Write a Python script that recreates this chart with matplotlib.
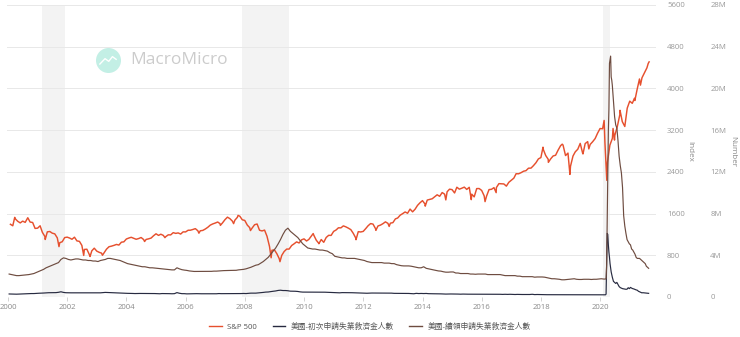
import pandas as pd
import matplotlib
matplotlib.use('Agg')
import matplotlib.pyplot as plt
from matplotlib.lines import Line2D

plt.rcParams['font.family'] = ['Open Sans', 'Noto Sans CJK TC', 'DejaVu Sans']

# S&P 500 month-end closes, Jan 2000 .. Jul 2021
sp500_monthly = [
    1394, 1366, 1499, 1452, 1421, 1455, 1431, 1518, 1437, 1429, 1315, 1320,
    1366, 1240, 1160, 1249, 1256, 1224, 1211, 1134, 1041, 1060, 1139, 1148,
    1130, 1107, 1147, 1076, 1067, 990, 912, 916, 815, 886, 936, 880,
    856, 841, 848, 917, 964, 975, 990, 1008, 996, 1051, 1058, 1112,
    1131, 1145, 1126, 1107, 1121, 1141, 1102, 1104, 1115, 1130, 1174, 1212,
    1181, 1204, 1181, 1157, 1192, 1191, 1234, 1220, 1229, 1207, 1249, 1248,
    1280, 1281, 1295, 1311, 1270, 1270, 1277, 1304, 1336, 1378, 1401, 1418,
    1438, 1407, 1421, 1482, 1531, 1503, 1455, 1474, 1527, 1549, 1481, 1468,
    1379, 1331, 1323, 1386, 1400, 1280, 1267, 1283, 1165, 969, 896, 903,
    826, 735, 798, 873, 919, 919, 987, 1021, 1057, 1036, 1096, 1115,
    1074, 1104, 1169, 1187, 1089, 1031, 1102, 1049, 1141, 1183, 1181, 1258,
    1286, 1327, 1326, 1364, 1345, 1321, 1292, 1219, 1131, 1253, 1247, 1258,
    1312, 1366, 1408, 1398, 1310, 1362, 1379, 1407, 1441, 1412, 1416, 1426,
    1498, 1515, 1569, 1598, 1631, 1606, 1686, 1633, 1682, 1757, 1806, 1848,
    1783, 1859, 1872, 1884, 1924, 1960, 1931, 2003, 1972, 2018, 2068, 2059,
    1995, 2105, 2068, 2086, 2107, 2063, 2104, 1972, 1920, 2079, 2080, 2044,
    1940, 1932, 2060, 2065, 2097, 2099, 2174, 2171, 2168, 2126, 2199, 2239,
    2279, 2364, 2363, 2384, 2412, 2423, 2470, 2472, 2519, 2575, 2648, 2674,
    2824, 2714, 2641, 2648, 2705, 2718, 2816, 2902, 2914, 2712, 2760, 2507,
    2704, 2784, 2834, 2946, 2752, 2942, 2980, 2926, 2977, 3038, 3141, 3231,
    3226, 2954, 2585, 2912, 3044, 3100, 3271, 3500, 3363, 3270, 3622, 3756,
    3714, 3811, 3973, 4181, 4204, 4298, 4395,
]
# intra-month highs / lows
sp500_extra_dates = ['2000-03-24', '2000-09-01', '2001-04-04', '2001-09-21', '2002-07-23',
                     '2002-10-09', '2003-03-11', '2004-08-12', '2005-04-20', '2006-06-13',
                     '2007-03-05', '2007-08-15', '2007-10-09', '2008-03-10', '2008-11-20',
                     '2009-03-09', '2010-04-23', '2010-07-02', '2011-04-29', '2011-10-03',
                     '2012-06-04', '2012-11-15', '2014-02-03', '2014-10-15', '2015-08-25',
                     '2016-02-11', '2016-06-27', '2018-01-26', '2018-04-02', '2018-09-20',
                     '2018-12-24', '2019-06-03', '2019-08-14', '2020-02-19', '2020-03-23',
                     '2020-06-08', '2020-06-26', '2020-09-02', '2020-10-30', '2021-01-29',
                     '2021-03-04', '2021-05-12', '2021-08-16', '2021-08-27']
sp500_extra_values = [1527, 1520, 1103, 966, 797,
                      777, 800, 1064, 1138, 1224,
                      1374, 1407, 1565, 1274, 752,
                      677, 1217, 1022, 1364, 1099,
                      1278, 1353, 1742, 1862, 1867,
                      1829, 2001, 2873, 2582, 2931,
                      2351, 2744, 2840, 3386, 2237,
                      3232, 3009, 3580, 3270, 3714,
                      3768, 4063, 4479, 4509]

# continuing claims (millions), monthly Jan 2000 .. Feb 2020
continuing_monthly = [
    2.20, 2.15, 2.10, 2.05, 2.05, 2.08, 2.10, 2.12, 2.15, 2.20, 2.25, 2.35,
    2.45, 2.55, 2.65, 2.80, 2.90, 3.00, 3.10, 3.20, 3.30, 3.60, 3.75, 3.70,
    3.60, 3.55, 3.60, 3.65, 3.65, 3.60, 3.55, 3.55, 3.50, 3.50, 3.45, 3.45,
    3.40, 3.50, 3.55, 3.60, 3.70, 3.70, 3.65, 3.60, 3.55, 3.50, 3.40, 3.30,
    3.20, 3.15, 3.10, 3.05, 3.00, 2.95, 2.90, 2.90, 2.85, 2.80, 2.80, 2.78,
    2.75, 2.72, 2.70, 2.68, 2.65, 2.62, 2.60, 2.60, 2.80, 2.70, 2.62, 2.58,
    2.55, 2.50, 2.48, 2.45, 2.45, 2.45, 2.45, 2.44, 2.45, 2.45, 2.46, 2.48,
    2.48, 2.50, 2.52, 2.53, 2.54, 2.55, 2.55, 2.55, 2.56, 2.60, 2.62, 2.65,
    2.70, 2.78, 2.85, 2.95, 3.05, 3.10, 3.25, 3.40, 3.60, 3.80, 4.10, 4.40,
    4.70, 5.10, 5.50, 6.00, 6.40, 6.60, 6.30, 6.10, 5.90, 5.70, 5.40, 5.10,
    4.90, 4.70, 4.65, 4.60, 4.60, 4.55, 4.50, 4.50, 4.45, 4.40, 4.25, 4.15,
    3.90, 3.85, 3.80, 3.75, 3.75, 3.70, 3.70, 3.70, 3.70, 3.65, 3.60, 3.55,
    3.50, 3.40, 3.35, 3.30, 3.30, 3.30, 3.30, 3.30, 3.25, 3.25, 3.25, 3.20,
    3.20, 3.10, 3.05, 3.00, 2.98, 2.98, 2.98, 2.95, 2.90, 2.85, 2.80, 2.80,
    2.90, 2.75, 2.70, 2.65, 2.60, 2.55, 2.50, 2.48, 2.42, 2.38, 2.38, 2.40,
    2.40, 2.30, 2.30, 2.25, 2.25, 2.25, 2.25, 2.20, 2.20, 2.18, 2.20, 2.20,
    2.20, 2.20, 2.15, 2.15, 2.15, 2.15, 2.15, 2.15, 2.10, 2.05, 2.05, 2.05,
    2.05, 2.05, 2.00, 2.00, 1.95, 1.95, 1.95, 1.95, 1.95, 1.90, 1.92, 1.92,
    1.92, 1.90, 1.85, 1.80, 1.75, 1.75, 1.73, 1.70, 1.65, 1.65, 1.68, 1.70,
    1.72, 1.75, 1.70, 1.68, 1.68, 1.70, 1.70, 1.70, 1.68, 1.70, 1.70, 1.72,
    1.75, 1.72,
]
# continuing claims (millions), Mar 2020 onward
continuing_recent_dates = [
    '2020-03-07', '2020-03-14', '2020-03-21', '2020-03-28', '2020-04-04', '2020-04-11',
    '2020-04-18', '2020-04-25', '2020-05-09', '2020-05-16', '2020-05-23', '2020-05-30',
    '2020-06-13', '2020-06-27', '2020-07-11', '2020-07-25', '2020-08-08', '2020-08-22',
    '2020-09-05', '2020-09-19', '2020-10-03', '2020-10-17', '2020-10-31', '2020-11-14',
    '2020-11-28', '2020-12-12', '2020-12-26', '2021-01-09', '2021-01-23', '2021-02-06',
    '2021-02-20', '2021-03-06', '2021-03-20', '2021-04-03', '2021-04-17', '2021-05-01',
    '2021-05-15', '2021-05-29', '2021-06-12', '2021-06-26', '2021-07-10', '2021-07-24',
    '2021-08-07', '2021-08-21']
continuing_recent_values = [
    1.72, 1.78, 3.06, 7.40, 11.9, 15.9,
    18.0, 22.4, 23.1, 21.1, 20.8, 20.3,
    18.8, 17.3, 16.5, 16.2, 15.0, 13.5,
    12.6, 11.9, 10.5, 7.8, 6.8, 6.1,
    5.5, 5.3, 5.1, 5.0, 4.6, 4.5,
    4.3, 4.1, 3.8, 3.7, 3.7, 3.7,
    3.6, 3.5, 3.4, 3.3, 3.2, 2.95,
    2.85, 2.75]

# initial claims (millions), monthly Jan 2000 .. Feb 2020
initial_monthly = [
    .29, .28, .27, .27, .28, .29, .30, .31, .32, .33, .33, .35,
    .36, .37, .38, .40, .41, .41, .41, .42, .45, .50, .44, .41,
    .40, .40, .40, .41, .41, .40, .39, .40, .41, .40, .39, .39,
    .39, .40, .42, .44, .43, .43, .40, .39, .39, .38, .36, .36,
    .35, .35, .34, .33, .34, .34, .34, .34, .34, .34, .33, .33,
    .32, .31, .33, .33, .33, .32, .31, .32, .42, .36, .32, .32,
    .30, .30, .31, .32, .32, .31, .31, .31, .31, .31, .32, .32,
    .31, .33, .32, .32, .31, .31, .31, .32, .32, .33, .33, .34,
    .33, .35, .37, .37, .37, .39, .41, .44, .47, .48, .52, .55,
    .58, .63, .65, .62, .62, .60, .56, .56, .55, .53, .49, .47,
    .47, .47, .46, .46, .46, .46, .46, .47, .46, .45, .43, .42,
    .42, .41, .40, .42, .42, .42, .41, .41, .40, .40, .39, .38,
    .37, .36, .37, .38, .38, .38, .37, .37, .37, .37, .39, .37,
    .35, .35, .35, .34, .35, .35, .34, .33, .31, .35, .33, .34,
    .33, .34, .32, .31, .31, .31, .30, .30, .29, .28, .29, .29,
    .29, .30, .28, .27, .28, .27, .27, .27, .27, .26, .27, .27,
    .28, .27, .26, .26, .26, .26, .26, .26, .25, .26, .25, .26,
    .25, .24, .25, .24, .24, .24, .24, .24, .26, .23, .24, .23,
    .23, .22, .22, .22, .22, .22, .21, .21, .21, .21, .22, .22,
    .22, .22, .21, .21, .21, .22, .21, .21, .21, .22, .22, .22,
    .21, .21,
]
initial_recent_dates = [
    '2020-03-07', '2020-03-14', '2020-03-21', '2020-03-28', '2020-04-04', '2020-04-11',
    '2020-04-18', '2020-04-25', '2020-05-02', '2020-05-16', '2020-05-30', '2020-06-13',
    '2020-06-27', '2020-07-11', '2020-07-25', '2020-08-08', '2020-08-22', '2020-09-05',
    '2020-09-19', '2020-10-03', '2020-10-17', '2020-10-31', '2020-11-14', '2020-11-28',
    '2020-12-12', '2020-12-26', '2021-01-09', '2021-01-23', '2021-02-06', '2021-02-20',
    '2021-03-06', '2021-03-20', '2021-04-03', '2021-04-17', '2021-05-01', '2021-05-15',
    '2021-05-29', '2021-06-12', '2021-06-26', '2021-07-10', '2021-07-24', '2021-08-07',
    '2021-08-21']
initial_recent_values = [
    0.21, 0.28, 3.3, 6.1, 6.0, 5.0,
    4.3, 3.8, 3.2, 2.4, 1.9, 1.5,
    1.4, 1.3, 1.4, 1.2, 1.0, 0.90,
    0.85, 0.80, 0.78, 0.75, 0.74, 0.75,
    0.89, 0.80, 0.92, 0.85, 0.80, 0.77,
    0.72, 0.68, 0.65, 0.55, 0.50, 0.44,
    0.40, 0.41, 0.40, 0.39, 0.38, 0.36,
    0.35]

# recession periods
recession_starts = ['2001-03-01', '2007-12-01', '2020-02-01']
recession_ends = ['2001-11-30', '2009-06-30', '2020-04-30']

legend_labels = ['S&P 500', '美國-初次申請失業救濟金人數', '美國-續領申請失業救濟金人數']
index_ticks = [0, 800, 1600, 2400, 3200, 4000, 4800, 5600]
number_ticks = [0, 4e6, 8e6, 12e6, 16e6, 20e6, 24e6, 28e6]
number_ticklabels = ['0', '4M', '8M', '12M', '16M', '20M', '24M', '28M']
year_ticks = list(range(2000, 2021, 2))

RED = '#e6502e'
BROWN = '#6e4c40'
DARK = '#272a40'


def series(monthly, extra_dates, extra_values, month_end=False):
    start = pd.date_range('2000-01-01', periods=len(monthly), freq='MS')
    if month_end:
        idx = start + pd.offsets.MonthEnd(0)
    else:
        idx = start + pd.Timedelta(days=14)
    s = pd.Series(monthly, index=idx)
    e = pd.Series(extra_values, index=pd.to_datetime(extra_dates))
    return pd.concat([s, e]).sort_index()


sp500 = series(sp500_monthly, sp500_extra_dates, sp500_extra_values, month_end=True)
continuing = series(continuing_monthly, continuing_recent_dates, continuing_recent_values) * 1e6
initial = series(initial_monthly, initial_recent_dates, initial_recent_values) * 1e6

fig = plt.figure(figsize=(7.4, 3.37), dpi=100)
ax = fig.add_axes([0.0095, 0.1187, 0.877, 0.8665])
ax2 = ax.twinx()

for s0, s1 in zip(recession_starts, recession_ends):
    ax.axvspan(pd.Timestamp(s0), pd.Timestamp(s1), color='#f3f3f3', lw=0, zorder=0)

ax.plot(sp500.index, sp500.values, color=RED, lw=1.05, zorder=3)
ax2.plot(initial.index, initial.values, color=DARK, lw=0.85)
ax2.plot(continuing.index, continuing.values, color=BROWN, lw=0.85)

ax.set_xlim(pd.Timestamp('1999-12-20'), pd.Timestamp('2021-11-20'))
ax.set_ylim(0, 5600)
ax2.set_ylim(0, 28e6)

ax.set_xticks([pd.Timestamp(f'{y}-01-01') for y in year_ticks])
ax.set_xticklabels([str(y) for y in year_ticks])
ax.tick_params(axis='x', length=3, width=0.6, color='#cccccc', pad=2,
               labelsize=5.6, labelcolor='#8a8a8a')

ax.yaxis.tick_right()
ax.set_yticks(index_ticks)
ax.set_yticklabels([str(v) for v in index_ticks])
ax.tick_params(axis='y', length=0, pad=8, labelsize=5.6, labelcolor='#9a9a9a')
ax.grid(axis='y', color='#e8e8e8', lw=0.7)
ax.set_axisbelow(True)

ax2.set_yticks(number_ticks)
ax2.set_yticklabels(number_ticklabels)
ax2.tick_params(axis='y', length=0, pad=39, labelsize=5.6, labelcolor='#9a9a9a')

for a in (ax, ax2):
    for sp in a.spines.values():
        sp.set_visible(False)

fig.text(690 / 740, 1 - 151 / 337, 'Index', rotation=270, ha='center', va='center',
         fontsize=5.8, color='#8a8a8a')
fig.text(733 / 740, 1 - 151 / 337, 'Number', rotation=270, ha='center', va='center',
         fontsize=5.8, color='#8a8a8a')

# watermark
cx, cy = 108 / 740, 1 - 60 / 337
fig.add_artist(Line2D([cx], [cy], marker='o', markersize=18, color='#c3efe5',
                      markeredgewidth=0, transform=fig.transFigure))
fig.add_artist(Line2D([cx - 0.011, cx - 0.004, cx + 0.001, cx + 0.006, cx + 0.011],
                      [cy - 0.012, cy + 0.004, cy - 0.004, cy + 0.010, cy + 0.002],
                      color='white', lw=1.0, transform=fig.transFigure))
fig.text(130 / 740, cy, 'MacroMicro', ha='left', va='center', fontsize=12.5,
         color='#cccccc')

handles = [Line2D([], [], color=c, lw=1.0) for c in (RED, DARK, BROWN)]
fig.legend(handles, legend_labels, loc='center', bbox_to_anchor=(0.5, 0.03), ncol=3,
           frameon=False, fontsize=5.6, handlelength=1.6, handletextpad=0.7,
           columnspacing=2.0, labelcolor='#555555')

fig.savefig('out.png', dpi=100)
